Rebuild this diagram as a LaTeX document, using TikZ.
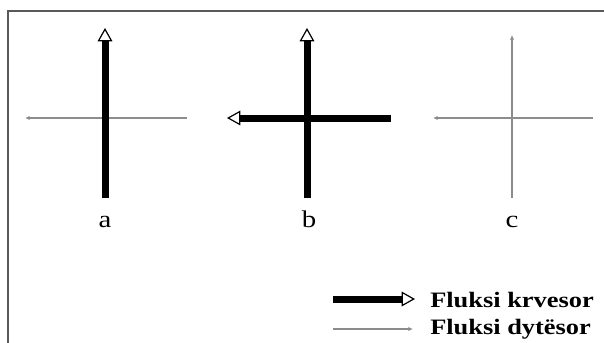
\documentclass[tikz,border=0pt]{standalone}
\usepackage{fontspec}
\setmainfont{Liberation Serif}[FakeStretch=1.2]
\usetikzlibrary{arrows.meta}

\begin{document}
\begin{tikzpicture}[x=0.75pt, y=-0.75pt,
        thickflux/.style={line width=5.25pt, -{Triangle[open, length=10pt, width=11pt, line width=0.9pt, fill=white]}},
        thinflux/.style={line width=1.1pt, draw=black!45, -{Latex[length=3.5pt, width=3.2pt]}},
        lbl/.style={font=\fontsize{18}{20}\selectfont, inner sep=0pt},
        legendlbl/.style={font=\fontsize{16.5}{18}\selectfont\bfseries, inner sep=0pt, anchor=base west},
    ]
    \useasboundingbox (0,0) rectangle (604,343);
    \draw[line width=1.5pt, black!65] (8,343) -- (8,11) -- (604,11);

    % end points of the flux lines
    \coordinate (aTop) at (105,28);   \coordinate (aBot) at (105,198);
    \coordinate (aLeft) at (25,118);  \coordinate (aRight) at (187,118);
    \coordinate (bTop) at (307,28);   \coordinate (bBot) at (307,198);
    \coordinate (bLeft) at (227,118); \coordinate (bRight) at (391,118);
    \coordinate (cTop) at (512,35);   \coordinate (cBot) at (512,198);
    \coordinate (cLeft) at (433,118); \coordinate (cRight) at (593,118);

    \draw[thinflux] (aRight) -- (aLeft);
    \draw[thickflux] (aBot) -- (aTop);

    \draw[thickflux] (bRight) -- (bLeft);
    \draw[thickflux] (bBot) -- (bTop);

    \draw[thinflux] (cRight) -- (cLeft);
    \draw[thinflux] (cBot) -- (cTop);

    \node[lbl, anchor=base] (labA) at (105,227) {a};
    \node[lbl, anchor=base] (labB) at (309,227) {b};
    \node[lbl, anchor=base] (labC) at (512,227) {c};

    % legend
    \coordinate (kStart) at (333,299); \coordinate (kEnd) at (415,299);
    \coordinate (dStart) at (333,329); \coordinate (dEnd) at (413,329);
    \draw[thickflux] (kStart) -- (kEnd);
    \draw[thinflux] (dStart) -- (dEnd);
    \node[legendlbl] (legK) at (430,307) {Fluksi krvesor};
    \node[legendlbl] (legD) at (430,334) {Fluksi dytësor};
\end{tikzpicture}
\end{document}
